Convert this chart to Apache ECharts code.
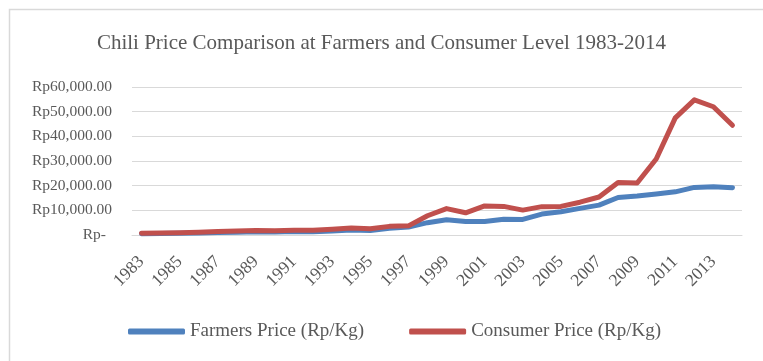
<!DOCTYPE html>
<html><head><meta charset="utf-8">
<script src="https://cdn.jsdelivr.net/npm/echarts@6/dist/echarts.min.js"></script>
<style>html,body{margin:0;padding:0;background:#fff}#c{width:763px;height:361px}</style>
</head><body><div id="c"></div>
<script>
const years = ['1983','1984','1985','1986','1987','1988','1989','1990','1991','1992','1993','1994','1995','1996','1997','1998','1999','2000','2001','2002','2003','2004','2005','2006','2007','2008','2009','2010','2011','2012','2013','2014'];
const farmersPrice = [500,600,700,850,1000,1150,1300,1250,1400,1350,1600,2000,1800,2700,3200,5000,6200,5500,5500,6400,6300,8500,9400,10800,12100,15200,15800,16600,17500,19300,19600,19200];
const consumerPrice = [700,800,900,1100,1400,1600,1800,1700,1900,1900,2300,2800,2500,3500,3700,7800,10700,9000,11800,11600,10100,11500,11600,13300,15400,21300,21100,30800,47500,54800,52000,44500];

const chart = echarts.init(document.getElementById('c'));
const font = '"Liberation Serif","Times New Roman",serif';
const grey = '#595959';
chart.setOption({
  animation:false,
  backgroundColor:'#fff',
  graphic:[{type:'rect',shape:{x:9.5,y:9.5,width:800,height:400},style:{fill:'none',stroke:'#d9d9d9',lineWidth:1.5},silent:true}],
  title:{text:'Chili Price Comparison at Farmers and Consumer Level 1983-2014',left:'center',top:28,
    textStyle:{fontFamily:font,fontSize:21,fontWeight:'normal',color:grey}},
  grid:{left:132,right:21,top:87,bottom:126},
  legend:{top:317,left:123,itemWidth:57,itemHeight:6,itemGap:45,icon:'roundRect',
    textStyle:{fontFamily:font,fontSize:19,color:grey},
    data:['Farmers Price (Rp/Kg)','Consumer Price (Rp/Kg)']},
  xAxis:{type:'category',data:years,boundaryGap:true,
    axisLine:{lineStyle:{color:'#d9d9d9',width:1}},axisTick:{show:false},
    axisLabel:{interval:1,rotate:45,margin:24,fontFamily:font,fontSize:17.5,color:grey}},
  yAxis:{type:'value',min:0,max:60000,interval:10000,
    axisLine:{show:false},axisTick:{show:false},
    splitLine:{lineStyle:{color:'#d9d9d9',width:1}},
    axisLabel:{margin:20,fontFamily:font,fontSize:15.5,color:grey,
      formatter:v=> v===0 ? '{z|Rp-}' : 'Rp'+v.toLocaleString('en-US')+'.00',
      rich:{z:{fontFamily:font,fontSize:15.5,color:grey,padding:[0,6,0,0]}}}},
  series:[
    {name:'Farmers Price (Rp/Kg)',type:'line',data:farmersPrice,showSymbol:false,symbol:'none',
      lineStyle:{color:'#4F81BD',width:5,cap:'round',join:'round'},itemStyle:{color:'#4F81BD'}},
    {name:'Consumer Price (Rp/Kg)',type:'line',data:consumerPrice,showSymbol:false,symbol:'none',
      lineStyle:{color:'#C0504D',width:5,cap:'round',join:'round'},itemStyle:{color:'#C0504D'}}
  ]
});
</script></body></html>
